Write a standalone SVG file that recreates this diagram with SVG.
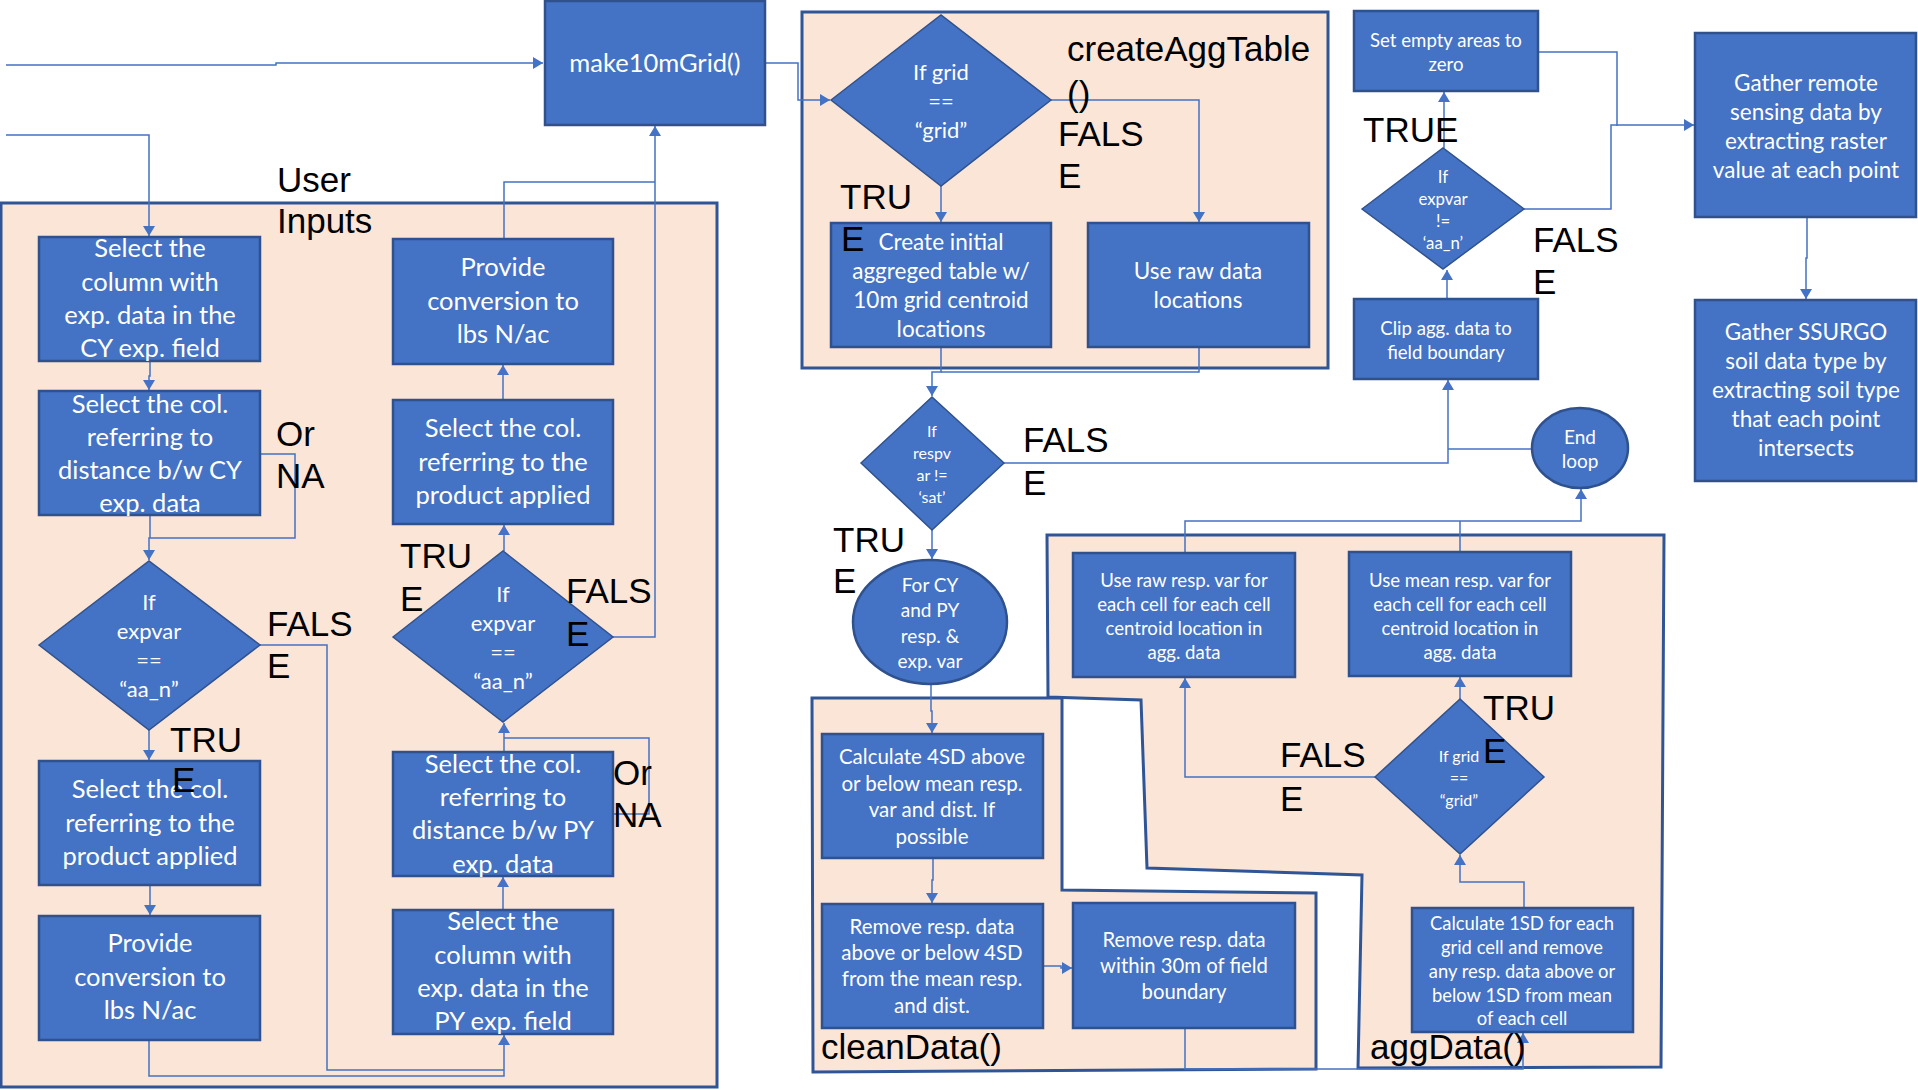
<svg xmlns="http://www.w3.org/2000/svg" width="1918" height="1090" viewBox="0 0 1918 1090">
<style>
.box{fill:#4472C4;stroke:#2F528F;stroke-width:2.5}
.dia{fill:#4472C4;stroke:#2F528F;stroke-width:1.5}
.cont{fill:#FBE5D6;stroke:#2F5597;stroke-width:3}
.wt{fill:#fff;font-family:Lato,"Liberation Sans",sans-serif;text-anchor:middle}
.lbl{fill:#000;font-family:"Liberation Sans",Arial,sans-serif;font-size:35px}
#connectors path{fill:none;stroke:#4472C4;stroke-width:1.5}
</style>
<defs>
<marker id="arr" markerUnits="userSpaceOnUse" markerWidth="12" markerHeight="12" refX="10" refY="6" orient="auto">
<path d="M0,0 L10,6 L0,12 z" fill="#4472C4"/>
</marker>
</defs>
<rect width="1918" height="1090" fill="#fff"/>

<!-- containers -->
<g id="container-user-inputs"><rect class="cont" x="1" y="203" width="716" height="884"/></g>
<g id="container-createAggTable"><rect class="cont" x="802" y="12" width="526" height="356"/></g>
<g id="container-aggData"><polygon class="cont" points="1047,535 1664,535 1661,1067 1358,1068 1362,875 1147,868 1141,700 1048,697"/></g>
<g id="container-cleanData"><polygon class="cont" points="812,698 1062,698 1062,890 1316,893 1316,1069 813,1072"/></g>

<g id="connectors">
<path d="M6,65 H276 V63 H543" marker-end="url(#arr)"/>
<path d="M6,135 H149 V236" marker-end="url(#arr)"/>
<path d="M150,361 V376 H149 V390" marker-end="url(#arr)"/>
<path d="M150,515 V538"/>
<path d="M260,454 H295 V538 H149 V560" marker-end="url(#arr)"/>
<path d="M149,730 V760" marker-end="url(#arr)"/>
<path d="M150,885 V915" marker-end="url(#arr)"/>
<path d="M149,1040 V1076 H504 V1035" marker-end="url(#arr)"/>
<path d="M260,645 H327 V1070 H504"/>
<path d="M503,910 V877" marker-end="url(#arr)"/>
<path d="M504,752 V723" marker-end="url(#arr)"/>
<path d="M613,814 H649 V738 H504"/>
<path d="M504,551 V525" marker-end="url(#arr)"/>
<path d="M503,400 V365" marker-end="url(#arr)"/>
<path d="M504,239 V182 H655"/>
<path d="M613,637 H655 V126" marker-end="url(#arr)"/>
<path d="M765,63 H798 V100 H830" marker-end="url(#arr)"/>
<path d="M941,186 V222" marker-end="url(#arr)"/>
<path d="M1051,100 H1199 V222" marker-end="url(#arr)"/>
<path d="M941,347 V372 H932 V396" marker-end="url(#arr)"/>
<path d="M1199,347 V372 H941"/>
<path d="M932,530 V559" marker-end="url(#arr)"/>
<path d="M1004,463 H1448 V380" marker-end="url(#arr)"/>
<path d="M1532,449 H1448"/>
<path d="M931,685 V711 H932 V733" marker-end="url(#arr)"/>
<path d="M933,858 V880 H932 V903" marker-end="url(#arr)"/>
<path d="M1043,966 H1061 V968 H1072" marker-end="url(#arr)"/>
<path d="M1185,1028 V1069 H1523 V1033" marker-end="url(#arr)"/>
<path d="M1524,908 V882 H1460 V855" marker-end="url(#arr)"/>
<path d="M1460,699 V677" marker-end="url(#arr)"/>
<path d="M1375,777 H1185 V678" marker-end="url(#arr)"/>
<path d="M1185,553 V521 H1581 V489" marker-end="url(#arr)"/>
<path d="M1460,552 V521"/>
<path d="M1447,299 V270" marker-end="url(#arr)"/>
<path d="M1444,148 V92" marker-end="url(#arr)"/>
<path d="M1524,209 H1611 V125 H1694" marker-end="url(#arr)"/>
<path d="M1538,52 H1617 V126"/>
<path d="M1807,217 V258 H1806 V299" marker-end="url(#arr)"/>
</g>

<g id="make10mGrid"><rect class="box" x="545" y="1" width="220" height="124"/>
<text class="wt" font-size="25.5" x="655" y="72">make10mGrid()</text></g>

<g id="cy-column" class="wt" font-size="25.5"><rect class="box" x="39" y="237" width="221" height="124"/>
<text x="150" y="257">Select the</text><text x="150" y="290.5">column with</text><text x="150" y="324">exp. data in the</text><text x="150" y="357">CY exp. field</text></g>

<g id="cy-distance" class="wt" font-size="25.5"><rect class="box" x="39" y="391" width="221" height="124"/>
<text x="150" y="413">Select the col.</text><text x="150" y="446">referring to</text><text x="150" y="479">distance b/w CY</text><text x="150" y="512">exp. data</text></g>

<g id="cy-decision" class="wt" font-size="22"><polygon class="dia" points="39,645 149,561 260,645 149,730"/>
<text x="149" y="610">If</text><text x="149" y="639">expvar</text><text x="149" y="668">==</text><text x="149" y="697">“aa_n”</text></g>

<g id="cy-product" class="wt" font-size="25.5"><rect class="box" x="39" y="761" width="221" height="124"/>
<text x="150" y="798">Select the col.</text><text x="150" y="832">referring to the</text><text x="150" y="865">product applied</text></g>

<g id="cy-conversion" class="wt" font-size="25.5"><rect class="box" x="39" y="916" width="221" height="124"/>
<text x="150" y="952">Provide</text><text x="150" y="986">conversion to</text><text x="150" y="1019">lbs N/ac</text></g>

<g id="py-conversion" class="wt" font-size="25.5"><rect class="box" x="393" y="239" width="220" height="125"/>
<text x="503" y="276">Provide</text><text x="503" y="310">conversion to</text><text x="503" y="343">lbs N/ac</text></g>

<g id="py-product" class="wt" font-size="25.5"><rect class="box" x="393" y="400" width="220" height="124"/>
<text x="503" y="437">Select the col.</text><text x="503" y="471">referring to the</text><text x="503" y="504">product applied</text></g>

<g id="py-decision" class="wt" font-size="22"><polygon class="dia" points="393,637 503,551 613,637 503,722"/>
<text x="503" y="602">If</text><text x="503" y="631">expvar</text><text x="503" y="660">==</text><text x="503" y="689">“aa_n”</text></g>

<g id="py-distance" class="wt" font-size="25.5"><rect class="box" x="393" y="752" width="220" height="124"/>
<text x="503" y="773">Select the col.</text><text x="503" y="806">referring to</text><text x="503" y="839">distance b/w PY</text><text x="503" y="873">exp. data</text></g>

<g id="py-column" class="wt" font-size="25.5"><rect class="box" x="393" y="910" width="220" height="124"/>
<text x="503" y="930">Select the</text><text x="503" y="964">column with</text><text x="503" y="997">exp. data in the</text><text x="503" y="1030">PY exp. field</text></g>

<g id="grid-decision" class="wt" font-size="22"><polygon class="dia" points="831,100 941,15 1051,100 941,186"/>
<text x="941" y="80">If grid</text><text x="941" y="109">==</text><text x="941" y="138">“grid”</text></g>

<g id="create-initial" class="wt" font-size="22.5"><rect class="box" x="831" y="223" width="220" height="124"/>
<text x="941" y="250">Create initial</text><text x="941" y="279">aggreged table w/</text><text x="941" y="308">10m grid centroid</text><text x="941" y="337">locations</text></g>

<g id="use-raw-locations" class="wt" font-size="22.5"><rect class="box" x="1088" y="223" width="221" height="124"/>
<text x="1198" y="279">Use raw data</text><text x="1198" y="308">locations</text></g>

<g id="respvar-decision" class="wt" font-size="16"><polygon class="dia" points="861,463 932,397 1004,463 932,530"/>
<text x="932" y="437">If</text><text x="932" y="459">respv</text><text x="932" y="481">ar !=</text><text x="932" y="503">‘sat’</text></g>

<g id="loop-start" class="wt" font-size="19"><ellipse class="box" cx="930" cy="622" rx="77" ry="62"/>
<text x="930" y="592">For CY</text><text x="930" y="617">and PY</text><text x="930" y="643">resp. &amp;</text><text x="930" y="668">exp. var</text></g>

<g id="calc-4sd" class="wt" font-size="20.5"><rect class="box" x="822" y="734" width="221" height="124"/>
<text x="932" y="764">Calculate 4SD above</text><text x="932" y="791">or below mean resp.</text><text x="932" y="817">var and dist. If</text><text x="932" y="844">possible</text></g>

<g id="remove-4sd" class="wt" font-size="20.5"><rect class="box" x="822" y="904" width="221" height="124"/>
<text x="932" y="934">Remove resp. data</text><text x="932" y="960">above or below 4SD</text><text x="932" y="986">from the mean resp.</text><text x="932" y="1013">and dist.</text></g>

<g id="remove-30m" class="wt" font-size="20.3"><rect class="box" x="1073" y="903" width="222" height="125"/>
<text x="1184" y="947">Remove resp. data</text><text x="1184" y="973">within 30m of field</text><text x="1184" y="999">boundary</text></g>

<g id="use-raw-resp" class="wt" font-size="18.6"><rect class="box" x="1073" y="553" width="222" height="124"/>
<text x="1184" y="587">Use raw resp. var for</text><text x="1184" y="611">each cell for each cell</text><text x="1184" y="635">centroid location in</text><text x="1184" y="659">agg. data</text></g>

<g id="use-mean-resp" class="wt" font-size="18.6"><rect class="box" x="1349" y="552" width="222" height="124"/>
<text x="1460" y="587">Use mean resp. var for</text><text x="1460" y="611">each cell for each cell</text><text x="1460" y="635">centroid location in</text><text x="1460" y="659">agg. data</text></g>

<g id="agg-grid-decision" class="wt" font-size="16"><polygon class="dia" points="1375,777 1460,699 1544,777 1460,854"/>
<text x="1459" y="762">If grid</text><text x="1459" y="784">==</text><text x="1459" y="806">“grid”</text></g>

<g id="calc-1sd" class="wt" font-size="18.4"><rect class="box" x="1412" y="908" width="221" height="124"/>
<text x="1522" y="929.5">Calculate 1SD for each</text><text x="1522" y="953.5">grid cell and remove</text><text x="1522" y="977.5">any resp. data above or</text><text x="1522" y="1001.5">below 1SD from mean</text><text x="1522" y="1025">of each cell</text></g>

<g id="end-loop" class="wt" font-size="19"><ellipse class="box" cx="1580" cy="448" rx="48" ry="40"/>
<text x="1580" y="444">End</text><text x="1580" y="468">loop</text></g>

<g id="clip" class="wt" font-size="18.6"><rect class="box" x="1354" y="299" width="184" height="80"/>
<text x="1446" y="335">Clip agg. data to</text><text x="1446" y="359">field boundary</text></g>

<g id="expvar-decision" class="wt" font-size="16.8"><polygon class="dia" points="1362,209 1443,148 1524,209 1443,269"/>
<text x="1443" y="183">If</text><text x="1443" y="205">expvar</text><text x="1443" y="227">!=</text><text x="1443" y="249">‘aa_n’</text></g>

<g id="set-empty" class="wt" font-size="18.6"><rect class="box" x="1354" y="11" width="184" height="80"/>
<text x="1446" y="47">Set empty areas to</text><text x="1446" y="71">zero</text></g>

<g id="gather-remote" class="wt" font-size="22.5"><rect class="box" x="1695" y="33" width="221" height="184"/>
<text x="1806" y="91">Gather remote</text><text x="1806" y="120">sensing data by</text><text x="1806" y="149">extracting raster</text><text x="1806" y="178">value at each point</text></g>

<g id="gather-ssurgo" class="wt" font-size="22.5"><rect class="box" x="1695" y="300" width="221" height="181"/>
<text x="1806" y="340">Gather SSURGO</text><text x="1806" y="369">soil data type by</text><text x="1806" y="398">extracting soil type</text><text x="1806" y="427">that each point</text><text x="1806" y="456">intersects</text></g>

<g id="labels" class="lbl">
<text x="277" y="192">User</text><text x="277" y="233">Inputs</text>
<text x="276" y="446">Or</text><text x="276" y="488">NA</text>
<text x="267" y="636">FALS</text><text x="267" y="678">E</text>
<text x="170" y="752">TRU</text><text x="172" y="792">E</text>
<text x="400" y="568">TRU</text><text x="400" y="611">E</text>
<text x="566" y="603">FALS</text><text x="566" y="646">E</text>
<text x="613" y="785">Or</text><text x="613" y="827">NA</text>
<text x="1067" y="61">createAggTable</text><text x="1067" y="106">()</text>
<text x="1058" y="146">FALS</text><text x="1058" y="188">E</text>
<text x="840" y="209">TRU</text><text x="841" y="251">E</text>
<text x="1023" y="452">FALS</text><text x="1023" y="495">E</text>
<text x="833" y="552">TRU</text><text x="833" y="593">E</text>
<text x="1363" y="142">TRUE</text>
<text x="1533" y="252">FALS</text><text x="1533" y="294">E</text>
<text x="1483" y="720">TRU</text><text x="1483" y="763">E</text>
<text x="1280" y="767">FALS</text><text x="1280" y="811">E</text>
<text x="821" y="1059">cleanData()</text>
<text x="1370" y="1059">aggData()</text>
</g>
</svg>
